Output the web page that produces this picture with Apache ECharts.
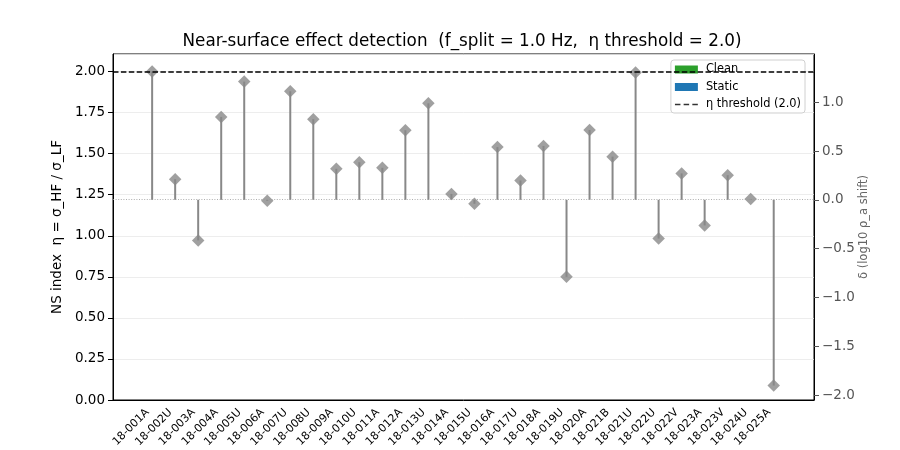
<!DOCTYPE html>
<html>
<head>
<meta charset="utf-8">
<script src="https://cdn.jsdelivr.net/npm/echarts@6/dist/echarts.min.js"></script>
<style>
  html, body { margin: 0; padding: 0; background: #fff; }
  #chart { width: 900px; height: 450px; }
</style>
</head>
<body>
<div id="chart"></div>
<script>
// station names along x
var stations = ['18-001A', '18-002U', '18-003A', '18-004A', '18-005U', '18-006A', '18-007U',
  '18-008U', '18-009A', '18-010U', '18-011A', '18-012A', '18-013U', '18-014A', '18-015U',
  '18-016A', '18-017U', '18-018A', '18-019U', '18-020A', '18-021B', '18-021U', '18-022U',
  '18-022V', '18-023A', '18-023V', '18-024U', '18-025A']
// NS index eta per station
var eta = [2.00, 1.345, 0.972, 1.724, 1.939, 1.213, 1.880, 1.710, 1.408, 1.448, 1.414, 1.643,
  1.807, 1.255, 1.195, 1.540, 1.337, 1.547, 0.750, 1.644, 1.482, 1.994, 0.983, 1.380, 1.063,
  1.369, 1.224, 0.088]
var etaThreshold = 2.0
var baseline = 1.219 // eta where delta = 0, stems start here
var legendNames = ['Clean', 'Static', 'η threshold (2.0)']

var pts = eta.map(function (v, i) { return [i, v] })
var font = 'DejaVu Sans'
// dashed line icon for legend (tiny corner dots keep the box 23x8)
var dashIcon = 'path://M0,3.2h5.5v1.6h-5.5z M8.7,3.2h5.5v1.6h-5.5z M17.4,3.2h5.5v1.6h-5.5z' +
  ' M0,0h0.01v0.01h-0.01z M22.9,8h0.01v0.01h-0.01z'

var chart = echarts.init(document.getElementById('chart'))
chart.setOption({
  animation: false,
  textStyle: { fontFamily: font },
  title: {
    text: 'Near-surface effect detection  (f_split = 1.0 Hz,  η threshold = 2.0)',
    left: 457,
    top: 28,
    textAlign: 'center',
    textStyle: { fontFamily: font, fontSize: 16.8, fontWeight: 'normal', color: '#000' }
  },
  legend: {
    orient: 'vertical',
    right: 95,
    top: 60,
    itemWidth: 23,
    itemHeight: 8,
    itemGap: 6.5,
    padding: [4, 4, 3, 4],
    borderColor: '#d0d0d0',
    borderWidth: 1,
    borderRadius: 3,
    backgroundColor: 'rgba(255,255,255,0.8)',
    textStyle: { fontFamily: font, fontSize: 11.4, color: '#000', padding: [0, 0, 0, 3] },
    data: [
      { name: legendNames[0], icon: 'rect' },
      { name: legendNames[1], icon: 'rect' },
      { name: legendNames[2], icon: dashIcon }
    ]
  },
  grid: [
    { left: 113, right: 86, top: 54, bottom: 50, show: true, borderColor: '#000', borderWidth: 1 },
    { left: 140.6, right: 114.9, bottom: 50, height: 10 }
  ],
  xAxis: [
    {
      type: 'value', gridIndex: 0, min: -1.7, max: 28.75,
      axisLine: { show: true, onZero: false, lineStyle: { color: '#000' } },
      axisTick: { show: false },
      axisLabel: { show: false }, splitLine: { show: false }
    },
    {
      type: 'category', gridIndex: 1, data: stations, boundaryGap: true,
      axisLine: { show: false },
      axisTick: { alignWithLabel: true, length: 5, lineStyle: { color: '#000' } },
      axisLabel: {
        rotate: 45, interval: 0, fontSize: 11, color: '#000', margin: 9.7,
        padding: [0, 6.5, 0, 0]
      },
      splitLine: { show: false }
    }
  ],
  yAxis: [
    {
      type: 'value', gridIndex: 0, min: 0, max: 2.107, interval: 0.25,
      name: 'NS index  η = σ_HF / σ_LF',
      nameLocation: 'middle', nameGap: 41,
      nameTextStyle: { fontFamily: font, fontSize: 13.5, color: '#000' },
      axisLine: { show: true, onZero: false, lineStyle: { color: '#000' } },
      axisTick: { show: true, length: 5, lineStyle: { color: '#000' } },
      axisLabel: {
        fontSize: 13.5, color: '#000', margin: 8, showMaxLabel: false,
        formatter: function (v) { return v.toFixed(2) }
      },
      splitLine: { show: true, lineStyle: { color: '#e8e8e8', width: 0.8 } }
    },
    {
      type: 'value', gridIndex: 0, position: 'right', min: -2.05, max: 1.495, splitNumber: 7,
      name: 'δ (log10 ρ_a shift)',
      nameLocation: 'middle', nameGap: 44, nameMoveOverlap: false,
      nameTextStyle: { fontFamily: font, fontSize: 11.5, color: '#666' },
      axisLine: { show: true, onZero: false, lineStyle: { color: '#000' } },
      axisTick: { show: true, length: 5, lineStyle: { color: '#555' } },
      axisLabel: {
        fontSize: 13.5, color: '#555', margin: 8, showMaxLabel: false, showMinLabel: false,
        formatter: function (v) { return v.toFixed(1).replace('-', '\u2212') }
      },
      splitLine: { show: false }
    },
    { type: 'value', gridIndex: 1, show: false }
  ],
  series: [
    {
      name: 'stems',
      type: 'custom',
      xAxisIndex: 0, yAxisIndex: 0,
      data: pts,
      renderItem: function (params, api) {
        var top = api.coord([api.value(0), api.value(1)])
        var bot = api.coord([api.value(0), baseline])
        return {
          type: 'line',
          shape: { x1: top[0], y1: top[1], x2: bot[0], y2: bot[1] },
          style: { stroke: '#888888', lineWidth: 2 }
        }
      },
      markLine: {
        silent: true, symbol: 'none', label: { show: false },
        lineStyle: { color: '#999', width: 0.8, type: [1, 1.6] },
        data: [{ yAxis: baseline }]
      },
      z: 2
    },
    {
      name: 'eta',
      type: 'scatter',
      xAxisIndex: 0, yAxisIndex: 0,
      data: pts,
      symbol: 'diamond',
      symbolSize: [12.5, 12.5],
      itemStyle: { color: '#888888' },
      z: 3
    },
    { name: legendNames[0], type: 'bar', xAxisIndex: 0, yAxisIndex: 0, data: [], itemStyle: { color: '#2ca02c' } },
    { name: legendNames[1], type: 'bar', xAxisIndex: 0, yAxisIndex: 0, data: [], itemStyle: { color: '#1f77b4' } },
    {
      name: legendNames[2],
      type: 'scatter',
      xAxisIndex: 0, yAxisIndex: 0,
      data: [],
      itemStyle: { color: '#000' },
      markLine: {
        silent: true, symbol: 'none', label: { show: false },
        lineStyle: { color: '#000', width: 1.5, type: [5.5, 2.4] },
        data: [{ yAxis: etaThreshold }]
      },
      z: 1
    }
  ]
})
</script>
</body>
</html>
